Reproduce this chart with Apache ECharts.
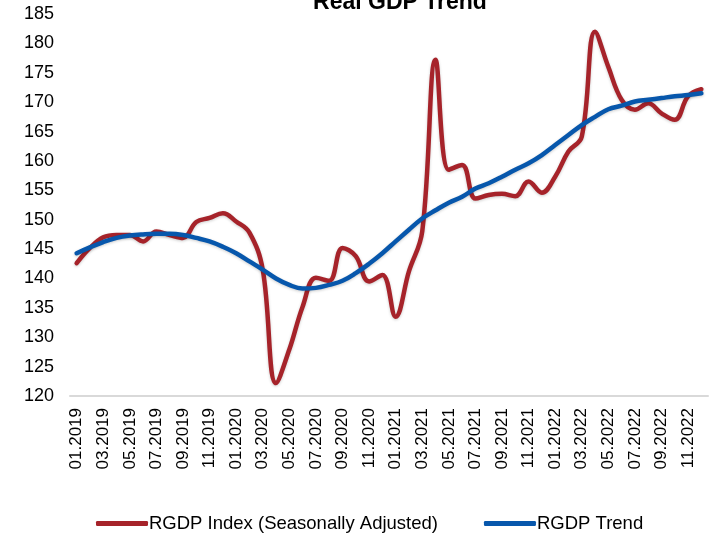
<!DOCTYPE html>
<html>
<head>
<meta charset="utf-8">
<script src="https://cdn.jsdelivr.net/npm/echarts@6/dist/echarts.min.js"></script>
<style>html,body{margin:0;padding:0;background:#fff}#c{width:718px;height:536px}</style>
</head>
<body>
<div id="c"></div>
<script>
var categories = ['01.2019','02.2019','03.2019','04.2019','05.2019','06.2019','07.2019','08.2019','09.2019','10.2019','11.2019','12.2019',
'01.2020','02.2020','03.2020','04.2020','05.2020','06.2020','07.2020','08.2020','09.2020','10.2020','11.2020','12.2020',
'01.2021','02.2021','03.2021','04.2021','05.2021','06.2021','07.2021','08.2021','09.2021','10.2021','11.2021','12.2021',
'01.2022','02.2022','03.2022','04.2022','05.2022','06.2022','07.2022','08.2022','09.2022','10.2022','11.2022','12.2022'];
var rgdpIndex = [142.6,145.2,147.0,147.4,147.4,146.3,148.0,147.4,146.9,149.6,150.3,151.1,
149.7,147.8,141.5,122.2,127.9,135.2,140.1,139.6,145.2,143.8,139.5,140.6,
133.5,141.2,148.0,177.2,158.5,159.3,153.6,154.2,154.4,154.0,156.5,154.6,
157.3,161.6,164.1,182.0,176.0,170.4,168.7,169.8,168.1,167.0,171.0,172.2];
var rgdpTrend = [144.3,145.3,146.2,146.9,147.3,147.5,147.6,147.6,147.4,146.9,146.3,145.4,
144.3,142.9,141.5,140.0,138.9,138.3,138.4,138.9,139.6,140.9,142.5,144.3,
146.3,148.3,150.2,151.6,152.9,153.9,155.3,156.2,157.3,158.5,159.6,161.0,
162.7,164.4,166.1,167.5,168.8,169.4,170.1,170.4,170.7,171.0,171.2,171.5];
var seriesNames = ['RGDP Index (Seasonally Adjusted)', 'RGDP Trend'];
var colors = ['#a6232a', '#0757ac'];

var chart = echarts.init(document.getElementById('c'));
chart.setOption({
  backgroundColor: '#fff',
  animation: false,
  title: {
    text: 'Real GDP Trend',
    left: 395, textAlign: 'center', top: -14,
    textStyle: {fontFamily: 'Liberation Sans, Arial', fontSize: 23, fontWeight: 'bold', color: '#000'}
  },
  grid: {left: 70, right: 10, top: 14, bottom: 140, containLabel: false},
  legend: {
    left: 91, top: 509,
    icon: 'roundRect',
    itemWidth: 52, itemHeight: 5, itemGap: 46,
    textStyle: {fontFamily: 'Liberation Sans, Arial', fontSize: 18.5, color: '#000', padding: [0,0,0,-4]},
    data: seriesNames.map(function (n, i) { return {name: n, itemStyle: {color: colors[i], borderWidth: 0}}; })
  },
  xAxis: {
    type: 'category',
    data: categories,
    boundaryGap: true,
    axisLine: {lineStyle: {color: '#d9d9d9', width: 2}},
    axisTick: {show: false},
    axisLabel: {interval: 1, rotate: 90, margin: 12, fontFamily: 'Liberation Sans, Arial', fontSize: 17, color: '#000'}
  },
  yAxis: {
    type: 'value', min: 120, max: 185, interval: 5,
    axisLine: {show: false}, axisTick: {show: false}, splitLine: {show: false},
    axisLabel: {margin: 16, fontFamily: 'Liberation Sans, Arial', fontSize: 18, color: '#000'}
  },
  series: [
    {
      name: seriesNames[0], type: 'line', data: rgdpIndex, smooth: 0.4, symbol: 'none',
      lineStyle: {color: colors[0], width: 4.5, cap: 'round', shadowColor: 'rgba(0,0,0,0.2)', shadowBlur: 3, shadowOffsetY: 1},
      itemStyle: {color: colors[0]}
    },
    {
      name: seriesNames[1], type: 'line', data: rgdpTrend, smooth: 0.4, symbol: 'none',
      lineStyle: {color: colors[1], width: 4.5, cap: 'round', shadowColor: 'rgba(0,0,0,0.2)', shadowBlur: 3, shadowOffsetY: 1},
      itemStyle: {color: colors[1]}
    }
  ]
});
</script>
</body>
</html>
